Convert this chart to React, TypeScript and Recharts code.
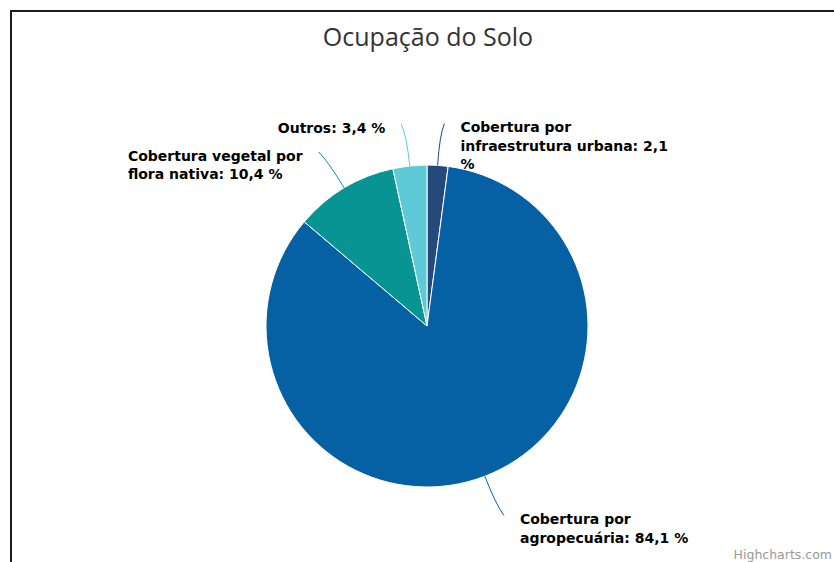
import React from "react";
import { PieChart, Pie, Cell } from "recharts";

const categories = [
  "Cobertura por infraestrutura urbana",
  "Cobertura por agropecuária",
  "Cobertura vegetal por flora nativa",
  "Outros",
];
const values = [2.1, 84.1, 10.4, 3.4];
const colors = ["#25497b", "#0561a3", "#099494", "#5ecad6"];
const title = "Ocupação do Solo";
const credits = "Highcharts.com";

const data = categories.map((name, i) => ({ name, value: values[i] }));

const RAD = Math.PI / 180;
const LABEL_FONT = 'bold 14px "DejaVu Sans"';
let ctx: CanvasRenderingContext2D | null = null;
function measure(s: string): number {
  if (!ctx) ctx = document.createElement("canvas").getContext("2d");
  if (!ctx) return s.length * 8;
  ctx.font = LABEL_FONT;
  return ctx.measureText(s).width;
}
function wrap(text: string, maxW: number): string[] {
  const words = text.split(" ");
  const lines: string[] = [];
  let cur = "";
  for (const w of words) {
    const test = cur ? cur + " " + w : w;
    if (cur && measure(test) > maxW) {
      lines.push(cur);
      cur = w;
    } else cur = test;
  }
  if (cur) lines.push(cur);
  return lines;
}
const fmt = (v: number) => v.toFixed(1).replace(".", ",");

const renderLabel = (props: any) => {
  const { cx, cy, midAngle, outerRadius, name, value, index } = props;
  const cos = Math.cos(-midAngle * RAD);
  const sin = Math.sin(-midAngle * RAD);
  const ex = cx + outerRadius * cos;
  const ey = cy + outerRadius * sin;
  const bx = cx + (outerRadius + 30) * cos;
  const by = cy + (outerRadius + 30) * sin;
  const right = cos >= 0;
  const dir = right ? 1 : -1;
  const ax = cx + (outerRadius + 42) * cos + dir * 4;
  const ay = cy + (outerRadius + 42) * sin;
  const lines = wrap(`${name}: ${fmt(value)} %`, 212);
  const maxW = Math.max(...lines.map(measure));
  const tx = right ? ax + 16 : ax - 16 - maxW;
  return (
    <g key={`lbl-${index}`}>
      <path
        d={`M${ex},${ey} Q${bx},${by} ${ax},${ay}`}
        fill="none"
        stroke={colors[index]}
        strokeWidth={1}
      />
      <text
        x={tx}
        y={ay + 9}
        fill="#000"
        style={{ font: LABEL_FONT }}
        textAnchor="start"
      >
        {lines.map((l, i) => (
          <tspan key={i} x={tx} dy={i === 0 ? 0 : 18.5}>
            {l}
          </tspan>
        ))}
      </text>
    </g>
  );
};

export default function App() {
  return (
    <div
      style={{
        position: "absolute",
        left: 0,
        top: 0,
        width: 834,
        height: 562,
        background: "#fff",
        overflow: "hidden",
      }}
    >
      <div
        style={{
          position: "absolute",
          left: 10,
          top: 10,
          width: 840,
          height: 570,
          borderLeft: "2px solid #1c1c1c",
          borderTop: "2px solid #1c1c1c",
        }}
      />
      <div style={{ position: "absolute", left: 0, top: 0 }}>
        <PieChart width={834} height={562} margin={{ top: 0, right: 0, bottom: 0, left: 0 }}>
          <Pie
            data={data}
            dataKey="value"
            nameKey="name"
            cx={427}
            cy={326}
            outerRadius={161}
            startAngle={90}
            endAngle={-270}
            stroke="#ffffff"
            strokeWidth={1}
            isAnimationActive={false}
            labelLine={false}
            label={renderLabel}
          >
            {data.map((d, i) => (
              <Cell key={d.name} fill={colors[i]} />
            ))}
          </Pie>
        </PieChart>
      </div>
      <svg
        width={834}
        height={562}
        style={{ position: "absolute", left: 0, top: 0, pointerEvents: "none" }}
      >
        <text
          x={428}
          y={46}
          textAnchor="middle"
          fill="#333333"
          style={{ fontFamily: '"Open Sans"', fontSize: 25 }}
        >
          {title}
        </text>
        <text
          x={832}
          y={559}
          textAnchor="end"
          fill="#999999"
          style={{ fontFamily: '"DejaVu Sans"', fontSize: 12.5 }}
        >
          {credits}
        </text>
      </svg>
    </div>
  );
}
